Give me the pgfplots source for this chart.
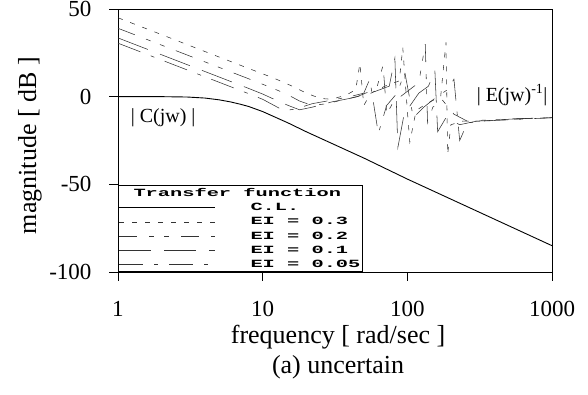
\documentclass[border=0pt]{standalone}
\usepackage{fontspec}
\setmainfont{Liberation Serif}
\setmonofont{Liberation Mono}
\usepackage{graphicx}
\usepackage{pgfplots}
\pgfplotsset{compat=1.18}

% wide bold type of the legend
\newcommand\legtext[1]{\scalebox{1.85}[1]{\fontsize{11}{12}\selectfont\ttfamily\bfseries #1}}
\newcommand\legentry[1]{\hspace*{33pt}\legtext{#1}}

\begin{document}
\begin{tikzpicture}
\path[use as bounding box] (0,0) rectangle (588pt,395pt);
\begin{axis}[
  at={(118pt,123pt)}, anchor=south west,
  scale only axis, width=434pt, height=263pt,
  xmode=log, xmin=1, xmax=1000, ymin=-100, ymax=50,
  clip=false,
  xtick={1,10,100,1000}, xticklabels={1,10,100,1000},
  ytick={-100,-50,0,50}, yticklabels={-100,-50,0,50},
  xminorticks=false, yminorticks=false,
  tick align=outside, xtick pos=left, ytick pos=left,
  major tick length=9pt,
  tick style={black, line width=0.6pt},
  axis line style={line width=0.8pt},
  ticklabel style={font=\fontsize{23}{26}\selectfont},
  xticklabel style={yshift=-17pt},
  yticklabel style={xshift=-14pt},
  label style={font=\fontsize{26}{30}\selectfont},
  xlabel={frequency [ rad/sec ]},
  ylabel={magnitude [ dB ]},
  xlabel style={at={(axis description cs:0.507,-0.247)}, anchor=center},
  ylabel style={at={(axis description cs:-0.203,0.48)}, anchor=center},
  legend cell align=left,
  legend style={at={(axis cs:1,-100)}, anchor=south west, draw=black,
    line width=0.6pt, fill=white, inner xsep=0.3pt, inner ysep=0.5pt,
    row sep=1.4pt},
  legend image code/.code={\draw[#1] (0pt,0pt) -- (96pt,0pt);},
]
\addlegendimage{empty legend}
\addlegendentry{\hspace*{-84pt}\legtext{Transfer function}}

% closed loop
\addplot[black, line width=0.9pt, solid] coordinates {
  (1,0) (2,0) (3,-0.2) (4,-0.8) (5,-1.8) (6,-3) (7,-4.3) (8,-5.6)
  (10,-8.5) (15,-15) (20,-20) (50,-35) (100,-47) (1000,-85)};
\addlegendentry{\legentry{C.L.}}

% inverse error transfer, EI = 0.3
\addplot[black!80, line width=0.55pt, dash pattern=on 5pt off 8pt] coordinates {
  (1,45) (2,35.4) (4,25.7) (8,16.1) (12,10.5) (16,6) (20,2) (25,-1)
  (30,-1.5) (38,1) (44,4) (47,19) (50,-5) (56,2) (70,6) (88,9) (93,28)
  (100,-8) (104,-26) (115,-8) (135,-4) (170,0) (185,31) (190,-33)
  (200,-16) (240,-14) (300,-14) (500,-13) (1000,-12)};
\addlegendentry{\legentry{EI = 0.3}}

% EI = 0.2
\addplot[black!80, line width=0.55pt,
  dash pattern=on 18pt off 12pt on 5pt off 10pt on 5pt off 12pt] coordinates {
  (1,39) (2,29.4) (4,19.8) (8,10.2) (12,4.5) (15,1) (18,-2.5) (22,-5)
  (28,-4) (35,-2) (45,0) (55,3) (62,6) (68,18) (72,-10) (80,-3) (100,3)
  (120,8) (133,30) (138,-15) (150,-6) (175,-2) (210,-10) (260,-14)
  (400,-13) (1000,-12)};
\addlegendentry{\legentry{EI = 0.2}}

% EI = 0.1
\addplot[black!80, line width=0.55pt, dash pattern=on 32pt off 13pt] coordinates {
  (1,33.5) (2,23.9) (4,14.3) (8,4.7) (10,1.5) (12,-1.5) (15,-5) (18,-7.5)
  (22,-6) (30,-3) (40,-1) (50,1) (60,3) (75,6) (82,22) (86,-29) (95,-10)
  (120,2) (140,6) (155,15) (162,-20) (185,-12) (230,-16) (300,-14)
  (600,-12.5) (1000,-12)};
\addlegendentry{\legentry{EI = 0.1}}

% EI = 0.05
\addplot[black!80, line width=0.55pt,
  dash pattern=on 24pt off 11pt on 4pt off 11pt] coordinates {
  (1,30.5) (2,20.9) (4,11.3) (8,1.7) (10,-1.5) (12,-5) (14,-8) (17,-7)
  (22,-4) (30,-2) (40,0) (50,2) (55,10) (63,-21) (72,-5) (85,2) (96,14)
  (110,-12) (130,-6) (160,0) (190,4) (210,10) (230,-25) (260,-15)
  (320,-14) (1000,-12)};
\addlegendentry{\legentry{EI = 0.05}}

\node[font=\fontsize{20}{22}\selectfont] at (axis cs:2.05,-12) {| C(jw) |};
\node[font=\fontsize{20}{22}\selectfont] at (axis cs:530,1)
  {| E(jw)\textsuperscript{-1}|};
\node[font=\fontsize{26}{30}\selectfont] at (axis description cs:0.507,-0.361)
  {(a) uncertain};
\end{axis}
\end{tikzpicture}
\end{document}
